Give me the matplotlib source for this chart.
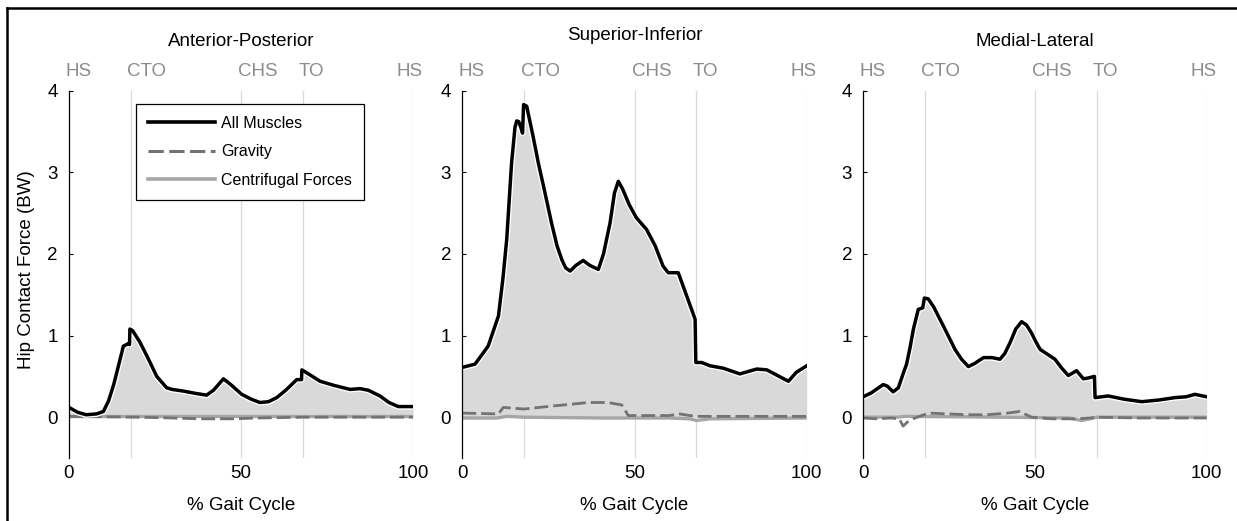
import matplotlib
matplotlib.use("Agg")
import matplotlib.pyplot as plt
from matplotlib.lines import Line2D

plt.rcParams["font.family"] = ["Liberation Sans", "DejaVu Sans"]

# ---- data ----
titles = ["Anterior-Posterior", "Superior-Inferior", "Medial-Lateral"]
event_names = ["HS", "CTO", "CHS", "TO", "HS"]
event_label_x = [2.7, 22.6, 55.0, 70.5, 99.0]
event_line_x = [18, 50, 68, 100]

ap_x = [0, 2.5, 5, 8, 10, 11.5, 13, 14.5, 15.8, 17.2, 17.6, 17.7, 18.5, 20.6, 23,
        25.5, 28.4, 30, 33.2, 37, 40, 42, 44.9, 47, 50.2, 53, 55.5, 58, 60.4, 63,
        66.2, 67.6, 67.7, 70, 73, 77, 81.7, 84.6, 87, 90.4, 93, 95.7, 100]
ap_muscles = [0.12, 0.06, 0.03, 0.04, 0.07, 0.2, 0.4, 0.65, 0.87, 0.90, 0.89, 1.08,
              1.06, 0.92, 0.72, 0.50, 0.36, 0.34, 0.32, 0.29, 0.27, 0.33, 0.47, 0.40,
              0.28, 0.22, 0.18, 0.19, 0.24, 0.33, 0.46, 0.46, 0.58, 0.52, 0.44, 0.39,
              0.34, 0.35, 0.33, 0.26, 0.18, 0.13, 0.13]
ap_grav_x = [0, 20, 30, 38, 47, 55, 68, 80, 100]
ap_gravity = [0.01, 0.0, -0.01, -0.02, -0.02, -0.01, 0.0, 0.0, 0.0]
ap_cent_x = [0, 50, 100]
ap_centrifugal = [0.02, 0.02, 0.02]

si_x = [0, 3.7, 7.5, 10.5, 11.8, 12.9, 14.3, 15.3, 15.8, 16.4, 17.0, 17.5, 17.8, 18.7,
        20.5, 22.1, 24, 25.9, 27.5, 28.9, 30, 31.3, 33, 35.1, 37, 39.5, 41, 42.9, 44.2,
        45.3, 46.5, 48.5, 50.6, 53.5, 56, 58.3, 59.8, 62.7, 65.2, 67.6, 67.8, 69.5,
        71.9, 75.8, 80.6, 85.5, 88.4, 92, 94.7, 97, 100]
si_muscles = [0.61, 0.65, 0.87, 1.24, 1.7, 2.18, 3.11, 3.55, 3.63, 3.62, 3.55, 3.48,
              3.83, 3.81, 3.45, 3.11, 2.75, 2.38, 2.1, 1.93, 1.83, 1.79, 1.86, 1.92,
              1.86, 1.81, 2.0, 2.38, 2.75, 2.89, 2.8, 2.6, 2.44, 2.30, 2.1, 1.85, 1.77,
              1.77, 1.48, 1.20, 0.67, 0.67, 0.63, 0.60, 0.53, 0.59, 0.58, 0.50, 0.44,
              0.55, 0.63]
si_grav_x = [0, 10.5, 11.9, 17.9, 26.9, 32, 36.6, 42.3, 46.3, 48.2, 55, 60, 63.2, 66,
             68, 100]
si_gravity = [0.05, 0.04, 0.12, 0.10, 0.14, 0.16, 0.18, 0.18, 0.15, 0.02, 0.02, 0.02,
              0.04, 0.02, 0.01, 0.01]
si_cent_x = [0, 10, 13, 18, 40, 60, 66, 68, 72, 100]
si_centrifugal = [-0.01, -0.01, 0.01, 0.0, -0.01, -0.01, -0.02, -0.04, -0.02, -0.01]

ml_x = [0, 2.4, 5.8, 7, 8.7, 10.2, 11.5, 12.6, 13.6, 14.6, 16.0, 17.3, 17.8, 18.9, 20.5,
        22.8, 24.7, 26.7, 28.6, 30.6, 32.5, 35, 37.5, 39.8, 41.2, 42.7, 44.4, 46.1,
        47.5, 49, 50.3, 51.5, 55.8, 57.8, 59.7, 62.1, 64.1, 65.5, 67.3, 67.5, 71.3,
        76, 81.1, 86, 90.8, 94, 96.6, 100]
ml_muscles = [0.25, 0.30, 0.40, 0.38, 0.31, 0.36, 0.52, 0.65, 0.85, 1.08, 1.32, 1.34,
              1.46, 1.45, 1.35, 1.16, 1.0, 0.83, 0.71, 0.62, 0.66, 0.73, 0.73, 0.71,
              0.78, 0.91, 1.08, 1.17, 1.13, 1.03, 0.92, 0.83, 0.71, 0.60, 0.51, 0.57,
              0.47, 0.48, 0.50, 0.24, 0.26, 0.22, 0.19, 0.21, 0.24, 0.25, 0.28, 0.25]
ml_grav_x = [0, 4, 8, 10.5, 11.6, 12.8, 14.5, 17, 19, 25, 30, 36, 42, 45.5, 47, 49, 55,
             62, 66, 68, 80, 100]
ml_gravity = [-0.01, -0.02, -0.01, -0.02, -0.11, -0.06, -0.02, 0.02, 0.05, 0.04, 0.03,
              0.03, 0.05, 0.07, 0.04, 0.0, -0.02, -0.02, -0.01, 0.0, -0.01, -0.01]
ml_cent_x = [0, 10, 12, 40, 60, 63.5, 66, 68, 100]
ml_centrifugal = [0.0, 0.0, 0.01, 0.0, -0.01, -0.04, -0.02, 0.0, 0.0]

panels = [
    (ap_x, ap_muscles, ap_grav_x, ap_gravity, ap_cent_x, ap_centrifugal),
    (si_x, si_muscles, si_grav_x, si_gravity, si_cent_x, si_centrifugal),
    (ml_x, ml_muscles, ml_grav_x, ml_gravity, ml_cent_x, ml_centrifugal),
]

# ---- layout ----
W, H = 1237, 521
fig = plt.figure(figsize=(W / 100, H / 100), dpi=100)

lefts = [69, 462.3, 863.3]
widths = [344, 344.4, 343.4]
bottom_px, top_px = 458, 90.7
title_y = [1.133, 1.149, 1.133]

FS = 13.5
for i, (x, mus, gx, grav, cx, cent) in enumerate(panels):
    ax = fig.add_axes([lefts[i] / W, 1 - bottom_px / H, widths[i] / W,
                       (bottom_px - top_px) / H])
    ax.set_xlim(0, 100)
    ax.set_ylim(-0.5, 4)

    for ex in event_line_x:
        ax.axvline(ex, color="#d9d9d9", lw=0.9, zorder=0.5)

    ax.fill_between(x, 0, mus, color="#d9d9d9", lw=0, zorder=1)
    ax.plot(cx, cent, color="#a6a6a6", lw=2.4, zorder=2, solid_capstyle="butt")
    ax.plot(gx, grav, color="#737373", lw=2.0, ls=(0, (5, 1.8)), zorder=3)
    ax.plot(x, mus, color="white", lw=4.4, zorder=3.5, solid_joinstyle="round")
    ax.plot(x, mus, color="black", lw=2.5, zorder=4, solid_joinstyle="round")

    for sp in ["top", "right", "bottom"]:
        ax.spines[sp].set_visible(False)
    ax.spines["left"].set_linewidth(0.9)
    ax.spines["left"].set_zorder(5)

    ax.set_yticks([0, 1, 2, 3, 4])
    ax.set_xticks([0, 50, 100])
    ax.tick_params(axis="y", direction="in", length=3, width=0.8, pad=8, labelsize=FS)
    ax.tick_params(axis="x", length=0, pad=5, labelsize=FS)

    tr = ax.get_xaxis_transform()
    for name, ex in zip(event_names, event_label_x):
        ax.text(ex, 1.051, name, transform=tr, ha="center", va="center",
                color="#8c8c8c", fontsize=FS)
    ax.text(50, title_y[i], titles[i], transform=tr, ha="center", va="center",
            fontsize=FS)
    ax.text(50, -0.128, "% Gait Cycle", transform=tr, ha="center", va="center",
            fontsize=FS)

    if i == 0:
        handles = [
            Line2D([], [], color="black", lw=2.6),
            Line2D([], [], color="#737373", lw=2.2, ls=(0, (5, 1.8))),
            Line2D([], [], color="#a6a6a6", lw=2.6),
        ]
        leg = ax.legend(handles, ["All Muscles", "Gravity", "Centrifugal Forces"],
                        loc="upper left", bbox_to_anchor=(0.194, 0.964),
                        borderaxespad=0, fontsize=11.5, handlelength=4.2,
                        handletextpad=0.4, labelspacing=0.85, borderpad=0.75,
                        fancybox=False, edgecolor="black", framealpha=1)
        leg.get_frame().set_linewidth(0.9)
        leg.set_zorder(10)

fig.text(27 / W, 1 - 270 / H, "Hip Contact Force (BW)", rotation=90,
         ha="center", va="center", fontsize=FS)

# outer frame (top and left edges only)
fig.add_artist(Line2D([7.5 / W, 7.5 / W], [0, 1 - 8 / H], color="black", lw=1.8,
                      transform=fig.transFigure))
fig.add_artist(Line2D([7.5 / W, 1], [1 - 8 / H, 1 - 8 / H], color="black", lw=1.8,
                      transform=fig.transFigure))

fig.savefig("out.png", dpi=100)
